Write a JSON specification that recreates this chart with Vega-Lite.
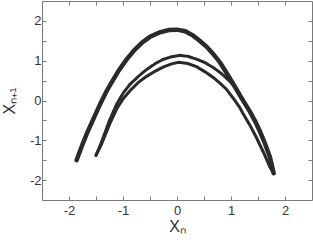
{
  "$schema": "https://vega.github.io/schema/vega-lite/v6.json",
  "width": 270,
  "height": 199,
  "autosize": {"type": "none"},
  "padding": {"left": 42, "top": 1, "right": 1, "bottom": 40},
  "background": "white",
  "config": {
    "view": {"stroke": null},
    "axis": {
      "grid": false,
      "domainColor": "#7a7a7a",
      "tickColor": "#7a7a7a",
      "tickSize": -4,
      "labelColor": "#333333",
      "labelFont": "Liberation Sans",
      "labelFontSize": 13,
      "titleFont": "Liberation Sans",
      "titleFontSize": 16,
      "titleFontWeight": "normal",
      "titleColor": "#333333"
    }
  },
  "data": {
    "values": [
      {"c": "outer", "i": 0, "x": -1.86, "y": -1.5},
      {"c": "outer", "i": 1, "x": -1.75, "y": -1.1},
      {"c": "outer", "i": 2, "x": -1.66, "y": -0.8},
      {"c": "outer", "i": 3, "x": -1.56, "y": -0.5},
      {"c": "outer", "i": 4, "x": -1.42, "y": -0.08},
      {"c": "outer", "i": 5, "x": -1.31, "y": 0.22},
      {"c": "outer", "i": 6, "x": -1.2, "y": 0.48},
      {"c": "outer", "i": 7, "x": -1.08, "y": 0.75},
      {"c": "outer", "i": 8, "x": -0.94, "y": 1.02},
      {"c": "outer", "i": 9, "x": -0.8, "y": 1.25},
      {"c": "outer", "i": 10, "x": -0.65, "y": 1.45},
      {"c": "outer", "i": 11, "x": -0.5, "y": 1.6},
      {"c": "outer", "i": 12, "x": -0.32, "y": 1.71},
      {"c": "outer", "i": 13, "x": -0.15, "y": 1.77},
      {"c": "outer", "i": 14, "x": 0.0, "y": 1.78},
      {"c": "outer", "i": 15, "x": 0.15, "y": 1.74},
      {"c": "outer", "i": 16, "x": 0.3, "y": 1.63},
      {"c": "outer", "i": 17, "x": 0.42, "y": 1.5},
      {"c": "outer", "i": 18, "x": 0.55, "y": 1.35},
      {"c": "outer", "i": 19, "x": 0.67, "y": 1.17},
      {"c": "outer", "i": 20, "x": 0.8, "y": 0.95},
      {"c": "outer", "i": 21, "x": 0.91, "y": 0.71},
      {"c": "outer", "i": 22, "x": 1.04, "y": 0.42},
      {"c": "outer", "i": 23, "x": 1.16, "y": 0.14},
      {"c": "outer", "i": 24, "x": 1.25, "y": -0.06},
      {"c": "outer", "i": 25, "x": 1.35, "y": -0.28},
      {"c": "outer", "i": 26, "x": 1.45, "y": -0.53},
      {"c": "outer", "i": 27, "x": 1.53, "y": -0.76},
      {"c": "outer", "i": 28, "x": 1.62, "y": -1.05},
      {"c": "outer", "i": 29, "x": 1.72, "y": -1.42},
      {"c": "outer", "i": 30, "x": 1.79, "y": -1.83},
      {"c": "upper", "i": 0, "x": -1.5, "y": -1.38},
      {"c": "upper", "i": 1, "x": -1.4, "y": -1.05},
      {"c": "upper", "i": 2, "x": -1.25, "y": -0.5},
      {"c": "upper", "i": 3, "x": -1.12, "y": -0.1},
      {"c": "upper", "i": 4, "x": -1.0, "y": 0.18},
      {"c": "upper", "i": 5, "x": -0.875, "y": 0.4},
      {"c": "upper", "i": 6, "x": -0.72, "y": 0.6},
      {"c": "upper", "i": 7, "x": -0.57, "y": 0.77},
      {"c": "upper", "i": 8, "x": -0.4, "y": 0.93},
      {"c": "upper", "i": 9, "x": -0.26, "y": 1.03},
      {"c": "upper", "i": 10, "x": -0.1, "y": 1.1},
      {"c": "upper", "i": 11, "x": 0.05, "y": 1.135},
      {"c": "upper", "i": 12, "x": 0.2, "y": 1.11},
      {"c": "upper", "i": 13, "x": 0.36, "y": 1.04},
      {"c": "upper", "i": 14, "x": 0.52, "y": 0.95},
      {"c": "upper", "i": 15, "x": 0.67, "y": 0.83},
      {"c": "upper", "i": 16, "x": 0.8, "y": 0.7},
      {"c": "upper", "i": 17, "x": 0.91, "y": 0.57},
      {"c": "upper", "i": 18, "x": 1.0, "y": 0.45},
      {"c": "upper", "i": 19, "x": 1.1, "y": 0.29},
      {"c": "upper", "i": 20, "x": 1.15, "y": 0.2},
      {"c": "lower", "i": 0, "x": -1.5, "y": -1.38},
      {"c": "lower", "i": 1, "x": -1.4, "y": -1.1},
      {"c": "lower", "i": 2, "x": -1.25, "y": -0.6},
      {"c": "lower", "i": 3, "x": -1.12, "y": -0.22},
      {"c": "lower", "i": 4, "x": -1.0, "y": 0.04},
      {"c": "lower", "i": 5, "x": -0.875, "y": 0.24},
      {"c": "lower", "i": 6, "x": -0.72, "y": 0.45},
      {"c": "lower", "i": 7, "x": -0.57, "y": 0.6},
      {"c": "lower", "i": 8, "x": -0.4, "y": 0.74},
      {"c": "lower", "i": 9, "x": -0.26, "y": 0.84},
      {"c": "lower", "i": 10, "x": -0.1, "y": 0.92},
      {"c": "lower", "i": 11, "x": 0.03, "y": 0.96},
      {"c": "lower", "i": 12, "x": 0.2, "y": 0.93},
      {"c": "lower", "i": 13, "x": 0.36, "y": 0.85},
      {"c": "lower", "i": 14, "x": 0.52, "y": 0.72},
      {"c": "lower", "i": 15, "x": 0.67, "y": 0.58},
      {"c": "lower", "i": 16, "x": 0.8, "y": 0.43},
      {"c": "lower", "i": 17, "x": 0.91, "y": 0.29},
      {"c": "lower", "i": 18, "x": 1.04, "y": 0.06},
      {"c": "lower", "i": 19, "x": 1.16, "y": -0.17},
      {"c": "lower", "i": 20, "x": 1.22, "y": -0.32},
      {"c": "lower", "i": 21, "x": 1.35, "y": -0.62},
      {"c": "lower", "i": 22, "x": 1.47, "y": -0.93},
      {"c": "lower", "i": 23, "x": 1.6, "y": -1.3},
      {"c": "lower", "i": 24, "x": 1.72, "y": -1.67},
      {"c": "lower", "i": 25, "x": 1.79, "y": -1.83}
    ]
  },
  "layer": [
    {
      "transform": [{"filter": "datum.c == 'outer'"}],
      "mark": {"type": "line", "color": "#2a2a2a", "strokeWidth": 4.5, "strokeCap": "round"},
      "encoding": {
        "x": {"field": "x", "type": "quantitative", "scale": {"domain": [-2.5, 2.5], "nice": false},
          "axis": {"orient": "bottom", "values": [-2, -1.5, -1, -0.5, 0, 0.5, 1, 1.5, 2], "labelExpr": "datum.value % 1 == 0 ? '' + datum.value : ''", "labelPadding": 8, "title": "Xₙ", "titlePadding": 1}},
        "y": {"field": "y", "type": "quantitative", "scale": {"domain": [-2.5, 2.5], "nice": false},
          "axis": {"orient": "left", "values": [-2, -1.5, -1, -0.5, 0, 0.5, 1, 1.5, 2], "labelExpr": "datum.value % 1 == 0 ? '' + datum.value : ''", "labelPadding": 5, "title": "Xₙ₊₁", "titlePadding": 12}},
        "order": {"field": "i", "type": "quantitative"}
      }
    },
    {
      "transform": [{"filter": "datum.c == 'upper'"}],
      "mark": {"type": "line", "color": "#2a2a2a", "strokeWidth": 3, "strokeCap": "round", "strokeDash": [7, 1.5]},
      "encoding": {
        "x": {"field": "x", "type": "quantitative", "axis": null},
        "y": {"field": "y", "type": "quantitative", "axis": null},
        "order": {"field": "i", "type": "quantitative"}
      }
    },
    {
      "transform": [{"filter": "datum.c == 'lower'"}],
      "mark": {"type": "line", "color": "#2a2a2a", "strokeWidth": 3, "strokeCap": "round"},
      "encoding": {
        "x": {"field": "x", "type": "quantitative", "axis": null},
        "y": {"field": "y", "type": "quantitative", "axis": null},
        "order": {"field": "i", "type": "quantitative"}
      }
    },
    {
      "mark": {"type": "line", "opacity": 0},
      "encoding": {
        "x": {"field": "x", "type": "quantitative",
          "axis": {"orient": "top", "values": [-2, -1.5, -1, -0.5, 0, 0.5, 1, 1.5, 2], "labels": false, "title": null}},
        "y": {"field": "y", "type": "quantitative",
          "axis": {"orient": "right", "values": [-2, -1.5, -1, -0.5, 0, 0.5, 1, 1.5, 2], "labels": false, "title": null}},
        "detail": {"field": "c"},
        "order": {"field": "i", "type": "quantitative"}
      }
    }
  ],
  "resolve": {"axis": {"x": "independent", "y": "independent"}}
}
